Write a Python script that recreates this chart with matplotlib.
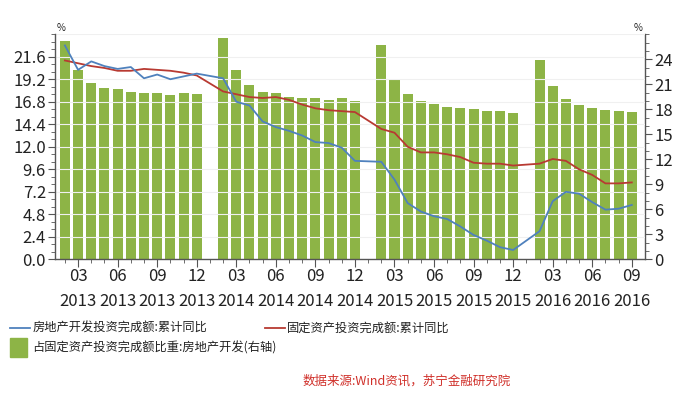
import matplotlib
matplotlib.use("Agg")
import matplotlib.pyplot as plt
from matplotlib.lines import Line2D
from matplotlib.patches import Rectangle
from matplotlib.ticker import MultipleLocator, FixedLocator

plt.rcParams['font.family'] = ['Noto Sans CJK SC', 'DejaVu Sans']

# ── data (Feb..Dec each year, Jan merged into Feb) ───────────────────────
YEARS  = [2013, 2014, 2015, 2016]
MONTHS = {2013: list(range(2, 13)), 2014: list(range(2, 13)),
          2015: list(range(2, 13)), 2016: list(range(2, 10))}

re_invest_yoy = [22.8, 20.2, 21.1, 20.6, 20.3, 20.5, 19.3, 19.7, 19.2, 19.5, 19.8,
                 19.3, 16.8, 16.4, 14.7, 14.1, 13.7, 13.2, 12.5, 12.4, 11.9, 10.5,
                 10.4, 8.5, 6.0, 5.1, 4.6, 4.3, 3.5, 2.6, 2.0, 1.3, 1.0,
                 3.0, 6.2, 7.2, 7.0, 6.1, 5.3, 5.4, 5.8]
fai_yoy = [21.2, 20.9, 20.6, 20.4, 20.1, 20.1, 20.3, 20.2, 20.1, 19.9, 19.6,
           17.9, 17.6, 17.3, 17.2, 17.3, 17.0, 16.5, 16.1, 15.9, 15.8, 15.7,
           13.9, 13.5, 12.0, 11.4, 11.4, 11.2, 10.9, 10.3, 10.2, 10.2, 10.0,
           10.2, 10.7, 10.5, 9.6, 9.0, 8.1, 8.1, 8.2]
re_share = [26.2, 22.7, 21.1, 20.6, 20.4, 20.1, 20.0, 20.0, 19.7, 20.0, 19.85,
            26.5, 22.7, 20.9, 20.1, 19.9, 19.5, 19.4, 19.3, 19.1, 19.3, 19.0,
            25.7, 21.65, 19.85, 19.0, 18.66, 18.3, 18.1, 18.0, 17.75, 17.75, 17.5,
            23.95, 20.8, 19.2, 18.5, 18.1, 17.9, 17.8, 17.7]

LABEL_MONTHS = [3, 6, 9, 12]
BLUE_NAME  = "房地产开发投资完成额:累计同比"
RED_NAME   = "固定资产投资完成额:累计同比"
BAR_NAME   = "占固定资产投资完成额比重:房地产开发(右轴)"
SOURCE     = "数据来源:Wind资讯，苏宁金融研究院"

# ── positions: one slot per month starting 2013-02 ─────────────────────────
xs, tick_labels, tick_pos = [], [], []
for y in YEARS:
    for m in MONTHS[y]:
        pos = (y - 2013) * 12 + (m - 2)
        xs.append(pos)
        if m in LABEL_MONTHS:
            tick_pos.append(pos)
            tick_labels.append(f"{m:02d}\n{y}")
all_slots = list(range(0, xs[-1] + 1))

GREEN = "#8db446"
BLUE  = "#4f81bd"
RED   = "#b83a32"
AXC   = "#555555"

fig = plt.figure(figsize=(7, 3.93), dpi=100)
ax = fig.add_axes([0.0786, 0.340, 0.8428, 0.573])
ax2 = ax.twinx()

ax2.bar(xs, re_share, width=0.76, color=GREEN, zorder=1)
ax.plot(xs, fai_yoy, color=RED, lw=1.3, zorder=3)
ax.plot(xs, re_invest_yoy, color=BLUE, lw=1.3, zorder=4)
ax.set_zorder(ax2.get_zorder() + 1)
ax.patch.set_visible(False)

ax.set_xlim(-0.75, xs[-1] + 1)
ax.set_ylim(0, 24)
ax2.set_ylim(0, 27)

ax.yaxis.set_minor_locator(MultipleLocator(0.8))
ax.set_yticks([i * 2.4 for i in range(10)])
ax.set_yticklabels([f"{i * 2.4:.1f}" for i in range(10)])
ax2.set_yticks(list(range(0, 25, 3)))
ax2.yaxis.set_minor_locator(MultipleLocator(1))

ax.set_xticks(tick_pos)
ax.set_xticklabels(tick_labels, linespacing=1.62)
ax.xaxis.set_minor_locator(FixedLocator(all_slots))

for a in (ax, ax2):
    for s in a.spines.values():
        s.set_visible(False)
    a.tick_params(axis='both', which='major', length=5, color=AXC, labelsize=12,
                  labelcolor="#222222", pad=1.5)
    a.tick_params(axis='both', which='minor', length=3, color=AXC)
ax.tick_params(axis='x', which='major', length=6, pad=0.5)
ax2.tick_params(axis='x', which='both', bottom=False, labelbottom=False)

ax.spines['left'].set_visible(True)
ax.spines['bottom'].set_visible(True)
ax2.spines['right'].set_visible(True)
for s in (ax.spines['left'], ax.spines['bottom'], ax2.spines['right']):
    s.set_color(AXC)
    s.set_linewidth(1.0)

for v in [i * 2.4 for i in range(1, 11)]:
    ax.axhline(v, color="#f0f0f0", lw=0.8, zorder=0)

fig.text(0.081, 0.915, "%", fontsize=7, color="#222222", ha="left", va="bottom")
fig.text(0.918, 0.915, "%", fontsize=7, color="#222222", ha="right", va="bottom")

# ── legend (bottom) ───────────────────────────────────────────────────────
fig.add_artist(Line2D([0.014, 0.043], [0.165, 0.165], color=BLUE, lw=1.3))
fig.text(0.046, 0.165, BLUE_NAME, fontsize=8.8, va="center", color="#222222")
fig.add_artist(Line2D([0.378, 0.407], [0.165, 0.165], color=RED, lw=1.3))
fig.text(0.410, 0.165, RED_NAME, fontsize=8.8, va="center", color="#222222")
fig.add_artist(Rectangle((0.014, 0.092), 0.025, 0.047, color=GREEN,
                         transform=fig.transFigure))
fig.text(0.046, 0.115, BAR_NAME, fontsize=8.8, va="center", color="#222222")
fig.text(0.73, 0.03, SOURCE, fontsize=9, va="center", ha="right",
         color="#d0302a", style="italic")

fig.savefig("out.png", dpi=100)
